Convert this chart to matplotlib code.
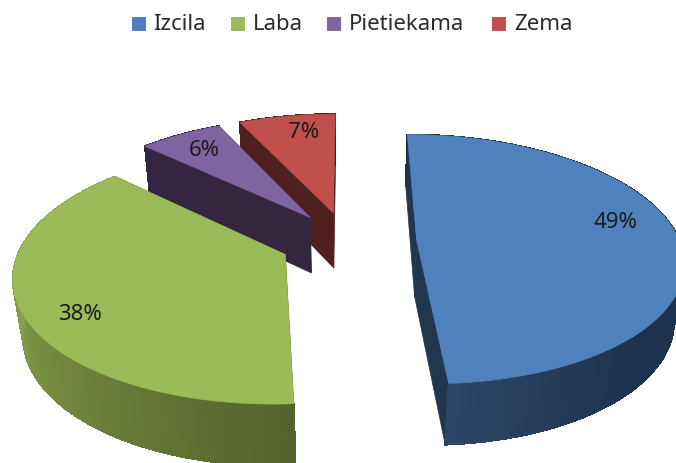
import numpy as np
import matplotlib
matplotlib.use("Agg")
import matplotlib.pyplot as plt
from matplotlib.collections import PolyCollection
from matplotlib.patches import Polygon, Rectangle

categories = ["Izcila", "Laba", "Pietiekama", "Zema"]
values = [49, 38, 6, 7]
labels = ["49%", "38%", "6%", "7%"]
top_colors = ["#4F81BD", "#9BBB59", "#8064A2", "#C0504D"]
face_colors = ["#20374F", "#4E5F2A", "#352640", "#4F201E"]
wall_start = [(44, 70, 102), (83, 97, 42), (52, 38, 66), (77, 32, 30)]
wall_end = [(29, 50, 76), (138, 165, 78), (52, 38, 66), (77, 32, 30)]
label_xy = [(616, 223), (80, 314), (204, 151), (304, 133)]
legend_box_x = [132, 231, 327, 492]
legend_text_x = [153, 253, 349, 514]

# projection of the tilted pie
CX, CY, F, G, K, M, D = 347, 241.0, 263, 122, 0.154, 0.03, 58
EXPLODE = [0.265, 0.255, 0.245, 0.245]
START = 90.0


def project(x, y, z=0.0):
    w = 1 + K * y + M * z
    return CX + F * x / w, CY - G * y / w + D * z / w


fig = plt.figure(figsize=(6.76, 4.63), dpi=100)
ax = fig.add_axes([0, 0, 1, 1])
ax.set_xlim(0, 676)
ax.set_ylim(463, 0)
ax.axis("off")

# angular spans, clockwise from START
spans = []
a = START
for v in values:
    b = a - v / sum(values) * 360
    spans.append((a, b))
    a = b

# painter's order: back slices first
for i in [3, 2, 0, 1]:
    a, b = spans[i]
    mid = np.radians((a + b) / 2)
    ox, oy = EXPLODE[i] * np.cos(mid), EXPLODE[i] * np.sin(mid)
    th = np.radians(np.linspace(a, b, 160))
    ax_, ay_ = ox + np.cos(th), oy + np.sin(th)
    tx, ty = project(ax_, ay_)
    bx, by = project(ax_, ay_, 1.0)
    apx, apy = project(ox, oy)
    apbx, apby = project(ox, oy, 1.0)

    # cut faces
    for j in (0, -1):
        ax.add_patch(Polygon([(apx, apy), (tx[j], ty[j]), (bx[j], by[j]), (apbx, apby)],
                             closed=True, fc=face_colors[i], ec=face_colors[i], lw=0.5, zorder=2))

    # outer wall with horizontal shading
    quads, cols = [], []
    c0, c1 = np.array(wall_start[i]) / 255, np.array(wall_end[i]) / 255
    for j in range(len(th) - 1):
        quads.append([(tx[j], ty[j]), (tx[j + 1], ty[j + 1]), (bx[j + 1], by[j + 1]), (bx[j], by[j])])
        deg = np.degrees(th[j])
        if i == 0:
            s = np.clip((deg + 85) / 40, 0, 1)
        elif i == 1:
            s = np.clip((-85 - deg) / 95, 0, 1)
        else:
            s = 0
        cols.append(c0 + (c1 - c0) * s)
    ax.add_collection(PolyCollection(quads, facecolors=cols, edgecolors=cols, linewidths=0.6,
                                     antialiaseds=False, zorder=2))

    # top face
    pts = [(apx, apy)] + list(zip(tx, ty))
    ax.add_patch(Polygon(pts, closed=True, fc=top_colors[i], ec=top_colors[i], lw=0.4, zorder=2))

    ax.text(*label_xy[i], labels[i], ha="center", va="center", fontsize=16,
            family="Noto Sans", color="#1c1c1c", zorder=5)

# legend
for name, col, bx0, tx0 in zip(categories, top_colors, legend_box_x, legend_text_x):
    ax.add_patch(Rectangle((bx0, 17), 14, 14, fc=col, ec="none", zorder=5))
    ax.text(tx0, 24, name, ha="left", va="center", fontsize=16, family="Noto Sans", color="#2a2a2a")

fig.savefig("out.png", dpi=100)
